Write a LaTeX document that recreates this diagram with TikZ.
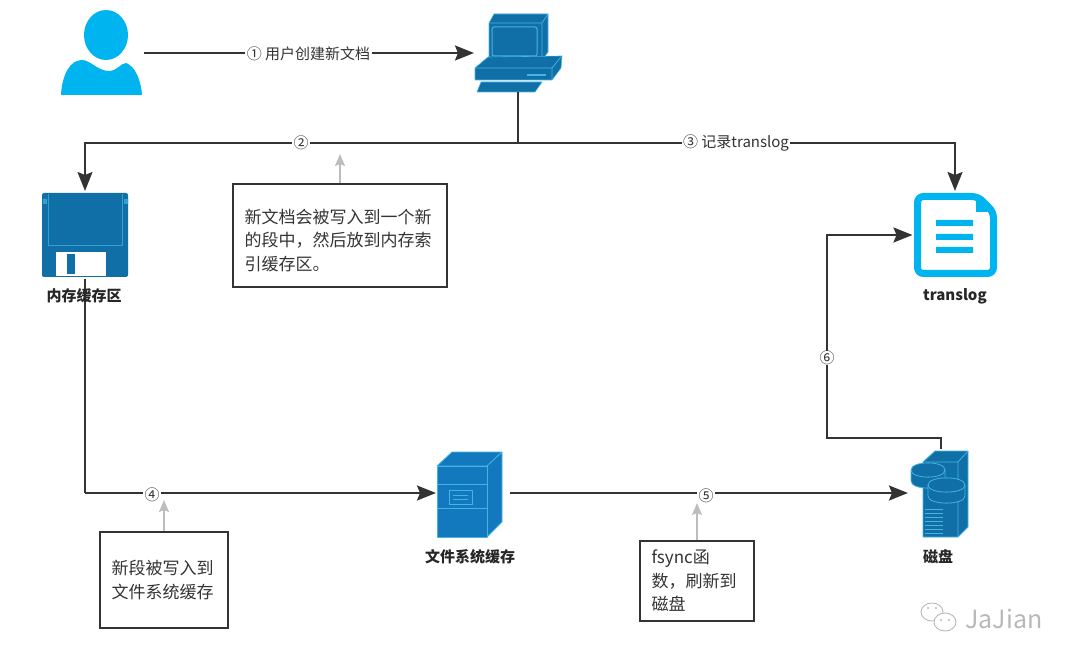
\documentclass[tikz,border=0pt]{standalone}
\usepackage{fontspec}
\setmainfont{Noto Sans CJK SC}
\usetikzlibrary{arrows.meta,calc}
\definecolor{skyb}{HTML}{00B4EF}
\definecolor{deepb}{HTML}{0F6FA6}
\definecolor{servb}{HTML}{1279BE}
\definecolor{hilite}{HTML}{45B4E0}
\definecolor{linec}{HTML}{333333}
\definecolor{txtc}{HTML}{333333}
\definecolor{wmc}{HTML}{B8B8B8}
\tikzset{
  flow/.style={draw=linec,line width=2pt,-{Stealth[length=19pt,width=15pt,inset=3pt]}},
  plainflow/.style={draw=linec,line width=2pt},
  hint/.style={draw=black!26,line width=1.5pt,-{Stealth[length=12pt,width=10pt,inset=2pt]}},
  iconbox/.style={inner sep=0pt,outer sep=0pt,minimum width=#1},
  flowlabel/.style={fill=white,inner xsep=1.5pt,inner ysep=0pt,text=txtc,font=\fontsize{15}{17}\selectfont},
  note/.style={draw=linec,line width=2pt,align=left,inner xsep=11.5pt,inner ysep=0pt,text=txtc,font=\fontsize{17}{23.5}\selectfont,anchor=north west},
  iconlabel/.style={text=black!85,inner sep=0pt,font=\fontsize{15}{17}\selectfont\bfseries},
  blueface/.style={fill=deepb,draw=hilite,line width=.8pt,line join=round},
  servface/.style={fill=servb,draw=hilite,line width=.8pt,line join=round}
}
\begin{document}
\begin{tikzpicture}[x=1pt,y=-1pt]
\useasboundingbox (0,0) rectangle (1080,663);
% icon bounding nodes
\node[iconbox=86pt,minimum height=86pt] (user) at (101,53) {};
\node[iconbox=88pt,minimum height=78pt] (computer) at (518,53) {};
\node[iconbox=86pt,minimum height=88pt] (mem) at (85,235) {};
\node[iconbox=85pt,minimum height=88pt] (doc) at (955,235) {};
\node[iconbox=74pt,minimum height=88pt] (server) at (473,493) {};
\node[iconbox=66pt,minimum height=88pt] (disk) at (941,493) {};
\coordinate (junction) at (518,143);
\coordinate (bendfour) at (85,493);
\coordinate (bendsixa) at (941,438);
\coordinate (bendsixb) at (827,235);
% user
\fill[skyb] (106,35) ellipse [x radius=22, y radius=25];
\fill[skyb] (61,95) .. controls (62,75) and (70,60) .. (82,60)
  .. controls (90,60) and (98,71) .. (109,71)
  .. controls (117,71) and (121,63) .. (126,63)
  .. controls (135,66) and (141,80) .. (142,95) -- cycle;
% computer
\fill[deepb,draw=hilite,line width=.6pt,line join=round] (489,23) -- (494,14) -- (548,14) -- (548,52) -- (542,60) -- (489,60) -- cycle;
\draw[hilite,line width=.8pt] (489,23) -- (542,23) -- (548,14) (542,23) -- (542,60);
\draw[hilite,line width=1pt,rounded corners=2pt] (492,27) rectangle (537,56);
\fill[deepb,draw=hilite,line width=.6pt,line join=round] (475,68) -- (488,57) -- (562,56) -- (561,68) -- (552,80) -- (475,80) -- cycle;
\draw[hilite,line width=.8pt] (475,68) -- (552,68) -- (561,57) (552,68) -- (552,80);
\draw[hilite,line width=1.4pt] (527,75) -- (546,75);
\fill[deepb,draw=hilite,line width=.6pt,line join=round] (481,82) -- (542,82) -- (535,92) -- (477,92) -- cycle;
% floppy
\fill[deepb,rounded corners=2pt] (42,193) rectangle (128,277);
\fill[hilite!70!deepb] (43,199) rectangle (47,204) (124,199) rectangle (128,204);
\draw[hilite!70!deepb,line width=.7pt] (48,194) -- (48,245) -- (122,245) -- (122,194);
\fill[white] (56,252) rectangle (106,276);
\fill[deepb] (67,254) rectangle (75,274);
% document
\draw[skyb,line width=7pt,line join=round,rounded corners=6pt] (917.5,196.5) -- (978,196.5) -- (993.5,212) -- (993.5,273.5) -- (917.5,273.5) -- cycle;
\fill[skyb] (976,195) -- (976,212) -- (995,212) -- cycle;
\fill[skyb] (936,220) rectangle (973,226) (936,234) rectangle (973,240) (936,247) rectangle (973,253);
% server
\fill[servface] (437,466) -- (452,452) -- (502,452) -- (487,466) -- cycle;
\fill[servface] (487,466) -- (502,452) -- (502,522) -- (487,537) -- cycle;
\fill[servface] (437,466) rectangle (487,537);
\draw[hilite,line width=.8pt] (437,484) -- (487,484) (437,508) -- (487,508);
\draw[hilite,line width=.9pt] (449,490) rectangle (472,504) (453,495) -- (468,495) (453,499) -- (468,499);
% disk
\fill[blueface] (935,451) -- (968,451) -- (968,527) -- (958,537) -- (923,537) -- (923,462) -- cycle;
\draw[hilite,line width=.8pt] (925,462) -- (958,462) -- (968,451) (958,462) -- (958,537);
\foreach \yy in {509,513,517,521,525,529,533}{\draw[hilite,line width=.7pt] (925,\yy) -- (943,\yy);}
\fill[blueface] (911,470) -- (911,481) .. controls (911,490.5) and (945,490.5) .. (945,481) -- (945,470) .. controls (945,460.5) and (911,460.5) .. (911,470) -- cycle;
\draw[hilite,line width=.8pt] (911,470) .. controls (911,479.5) and (945,479.5) .. (945,470);
\fill[blueface] (928,485) -- (928,496) .. controls (928,505.5) and (965,505.5) .. (965,496) -- (965,485) .. controls (965,475.5) and (928,475.5) .. (928,485) -- cycle;
\draw[hilite,line width=.8pt] (928,485) .. controls (928,494.5) and (965,494.5) .. (965,485);
% connectors
\draw[flow] (user.east) -- (computer.west);
\draw[plainflow] (computer.south) -- (junction);
\draw[flow] (junction) -| (mem.north);
\draw[flow] (junction) -| (doc.north);
\draw[plainflow] (mem.south) -- (bendfour);
\draw[flow] (bendfour) -- (server.west);
\draw[flow] (server.east) -- (disk.west);
\draw[flow] (disk.north) -- (bendsixa) -| (bendsixb) -- (doc.west);
% icon labels
\node[iconlabel] (memlabel) at (84,296) {内存缓存区};
\node[iconlabel] (doclabel) at (955,296) {translog};
\node[iconlabel] (serverlabel) at (470,557) {文件系统缓存};
\node[iconlabel] (disklabel) at (938,557) {磁盘};
% connector labels
\node[flowlabel] (l1) at (308.5,54) {① 用户创建新文档};
\node[flowlabel] (l2) at (301,143) {②};
\node[flowlabel] (l3) at (736,143) {③ 记录translog};
\node[flowlabel] (l4) at (152,495) {④};
\node[flowlabel] (l5) at (706,496) {⑤};
\node[flowlabel] (l6) at (827,358) {⑥};
% notes
\node[note,text width=191pt,minimum height=103pt] (note2) at (232,183) {\rule{0pt}{24pt}新文档会被写入到一个新\\的段中，然后放到内存索\\引缓存区。};
\node[note,text width=105pt,minimum height=96pt] (note4) at (99,531) {新段被写入到\\文件系统缓存};
\node[note,text width=91pt,minimum height=80pt] (note5) at (639,540) {fsync函\\数，刷新到\\磁盘};
\coordinate (hint2) at (339,154);
\coordinate (hint4) at (162,500);
\coordinate (hint5) at (696,503);
\draw[hint] (note2.north) -- (note2.north |- hint2);
\draw[hint] (note4.north) -- (note4.north |- hint4);
\draw[hint] (note5.north) -- (note5.north |- hint5);
% watermark
\draw[wmc,line width=.9pt] (932,612) ellipse [x radius=11, y radius=9];
\fill[white] (945,622) ellipse [x radius=11.5, y radius=9.5];
\draw[wmc,line width=.9pt] (945,622) ellipse [x radius=11, y radius=9];
\fill[wmc] (928,608) circle (1.1) (936,608) circle (1.1) (941,620) circle (1.1) (949,620) circle (1.1);
\node[text=wmc,inner sep=0pt,font=\fontsize{25}{27}\selectfont] (mark) at (1004,619) {JaJian};
\end{tikzpicture}
\end{document}
